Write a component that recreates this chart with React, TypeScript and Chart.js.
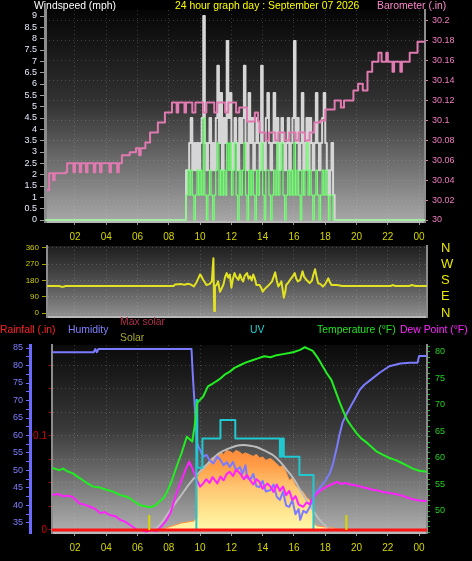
import React, { useEffect, useRef } from 'react';
import { Chart, registerables } from 'chart.js';

Chart.register(...registerables);

const FONT = '"Liberation Sans", Arial, sans-serif';

// ---------- shared time axis ----------
const hourTicks = [2, 4, 6, 8, 10, 12, 14, 16, 18, 20, 22, 24];
const hourLabels = ['02', '04', '06', '08', '10', '12', '14', '16', '18', '20', '22', '00'];

// ---------- top panel: wind + barometer ----------
const windTicks = [0, 0.5, 1, 1.5, 2, 2.5, 3, 3.5, 4, 4.5, 5, 5.5, 6, 6.5, 7, 7.5, 8, 8.5, 9];
const baroTicks = [30, 30.02, 30.04, 30.06, 30.08, 30.1, 30.12, 30.14, 30.16, 30.18, 30.2];

const windSampleStart = 9.0;
const windSampleStep = 0.1;
const windDayStart = 0.1;
const windDayEnd = 24.4;
const gustValues = [
  0, 2.2, 2.2, 3.4, 4.5, 2.2, 3.4, 2.2, 3.4, 2.2,
  3.4, 4.5, 9.0, 3.4, 2.2, 3.4, 4.5, 2.2, 3.4, 2.2,
  4.5, 6.8, 3.4, 5.6, 2.2, 4.5, 3.4, 7.9, 4.5, 5.6,
  2.2, 3.4, 4.5, 3.4, 2.2, 4.5, 3.4, 4.5, 6.8, 3.4,
  2.2, 5.6, 3.4, 4.5, 2.2, 3.4, 4.5, 3.4, 2.2, 6.8,
  3.4, 2.2, 4.5, 5.6, 3.4, 2.2, 3.4, 5.6, 3.4, 4.5,
  2.2, 3.4, 4.5, 3.4, 2.2, 3.4, 4.5, 2.2, 3.4, 4.5,
  7.9, 3.4, 4.5, 2.2, 3.4, 5.6, 2.2, 3.4, 4.5, 2.2,
  4.5, 3.4, 2.2, 3.4, 5.6, 3.4, 2.2, 3.4, 4.5, 5.6,
  3.4, 2.2, 1.1, 2.2, 3.4, 1.1, 0,
];
const speedValues = [
  0, 1.1, 2.2, 1.1, 2.2, 1.1, 0, 1.1, 2.2, 1.1,
  2.2, 1.1, 4.5, 1.1, 0, 1.1, 2.2, 1.1, 0, 1.1,
  2.2, 3.4, 1.1, 2.2, 1.1, 2.2, 1.1, 3.4, 2.2, 3.4,
  1.1, 2.2, 3.4, 1.1, 0, 2.2, 1.1, 2.2, 3.4, 1.1,
  0, 2.2, 1.1, 2.2, 1.1, 0, 2.2, 1.1, 2.2, 3.4,
  1.1, 0, 2.2, 2.2, 1.1, 0, 1.1, 2.2, 1.1, 3.4,
  1.1, 2.2, 3.4, 1.1, 0, 1.1, 2.2, 1.1, 2.2, 1.1,
  3.4, 1.1, 2.2, 1.1, 0, 2.2, 1.1, 2.2, 3.4, 1.1,
  2.2, 1.1, 0, 1.1, 2.2, 1.1, 0, 1.1, 2.2, 1.1,
  2.2, 1.1, 0, 1.1, 1.1, 0, 0,
];

const baroHours = [0.2, 0.35, 0.6, 0.7, 1.4, 1.5, 1.9, 2.0, 2.3, 2.4, 2.7, 2.8, 3.2, 3.3, 3.6, 3.7, 4.2, 4.3, 4.7, 4.8, 5.0, 5.5, 5.9, 6.1, 6.2, 6.5, 6.8, 7.3, 7.75, 8.2, 8.5, 8.6, 9.0, 9.1, 9.5, 9.7, 10.2, 10.4, 10.9, 11.1, 11.6, 11.8, 12.3, 12.5, 13.0, 13.5, 13.7, 13.8, 14.2, 14.4, 14.8, 15.0, 15.4, 15.7, 16.1, 16.3, 16.7, 17.0, 17.3, 17.7, 18.0, 18.6, 19.0, 19.2, 19.8, 20.1, 20.4, 20.7, 21.0, 21.4, 21.6, 21.9, 22.0, 22.3, 22.4, 22.8, 22.9, 23.4, 23.9, 24.4];
const baroValues = [30.030, 30.047, 30.040, 30.047, 30.048, 30.057, 30.048, 30.057, 30.048, 30.057, 30.048, 30.057, 30.048, 30.057, 30.048, 30.057, 30.048, 30.057, 30.048, 30.057, 30.065, 30.068, 30.072, 30.065, 30.072, 30.078, 30.088, 30.098, 30.108, 30.118, 30.108, 30.118, 30.108, 30.118, 30.108, 30.118, 30.108, 30.118, 30.108, 30.118, 30.108, 30.118, 30.108, 30.113, 30.099, 30.108, 30.099, 30.088, 30.080, 30.088, 30.080, 30.088, 30.080, 30.088, 30.080, 30.088, 30.080, 30.088, 30.098, 30.100, 30.111, 30.120, 30.113, 30.120, 30.130, 30.137, 30.130, 30.149, 30.159, 30.168, 30.159, 30.168, 30.159, 30.149, 30.159, 30.149, 30.159, 30.168, 30.179, 30.179];

// ---------- middle panel: wind direction ----------
const dirTicks = [0, 90, 180, 270, 360];
const compassLabels = ['N', 'E', 'S', 'W', 'N'];
const dirHours = [0.2, 1.0, 1.1, 1.3, 1.4, 8.3, 8.4, 8.8, 9.0, 9.2, 9.4, 9.6, 9.8, 10.0, 10.1, 10.2, 10.3, 10.4, 10.6, 10.75, 10.85, 10.9, 10.95, 11.05, 11.15, 11.27, 11.4, 11.5, 11.6, 11.7, 11.8, 11.9, 12.0, 12.1, 12.2, 12.3, 12.45, 12.55, 12.65, 12.75, 12.85, 13.0, 13.1, 13.2, 13.3, 13.4, 13.5, 13.6, 13.8, 13.9, 14.0, 14.15, 14.3, 14.45, 14.6, 14.7, 14.8, 14.9, 15.0, 15.1, 15.2, 15.35, 15.45, 15.5, 15.65, 15.75, 15.9, 16.05, 16.15, 16.25, 16.4, 16.55, 16.65, 16.8, 16.9, 17.0, 17.15, 17.25, 17.35, 17.45, 17.55, 17.7, 17.85, 18.0, 18.2, 18.3, 18.4, 18.75, 19.1, 22.2, 22.3, 22.45, 23.4, 23.5, 23.8, 24.5];
const dirValues = [150, 150, 146, 146, 150, 150, 158, 160, 156, 162, 158, 147, 175, 214, 200, 183, 170, 155, 160, 175, 303, 11, 150, 155, 175, 118, 140, 160, 200, 221, 195, 213, 140, 190, 221, 200, 183, 214, 190, 175, 205, 221, 190, 203, 180, 213, 190, 155, 155, 140, 118, 135, 147, 160, 175, 200, 225, 180, 147, 160, 175, 85, 120, 155, 170, 183, 200, 221, 190, 175, 183, 231, 200, 183, 175, 165, 180, 215, 242, 200, 165, 160, 147, 160, 192, 170, 155, 155, 150, 150, 155, 150, 150, 155, 150, 150];

// ---------- bottom panel ----------
const humTicks = [35, 37.5, 40, 42.5, 45, 47.5, 50, 52.5, 55, 57.5, 60, 62.5, 65, 67.5, 70, 72.5, 75, 77.5, 80, 82.5, 85];
const rainTicks = [0, 0.025, 0.05, 0.075, 0.1, 0.125, 0.15, 0.175];
const rainTickLabels = ['0', '', '', '', '0.1', '', '', ''];
const tempTicks = [46, 47, 48, 49, 50, 51, 52, 53, 54, 55, 56, 57, 58, 59, 60, 61, 62, 63, 64, 65, 66, 67, 68, 69, 70, 71, 72, 73, 74, 75, 76, 77, 78, 79, 80, 81];

const humHours = [0.55, 1.0, 2.0, 3.2, 3.3, 3.4, 3.5, 4.5, 6.0, 8.0, 9.45, 9.5, 9.55, 9.62, 9.7, 9.75, 9.8, 9.9, 10.0, 10.2, 10.4, 10.6, 10.85, 11.1, 11.3, 11.5, 11.7, 11.9, 12.1, 12.3, 12.55, 12.7, 12.9, 13.0, 13.2, 13.4, 13.6, 13.8, 14.0, 14.2, 14.5, 14.7, 14.9, 15.1, 15.3, 15.5, 15.7, 15.9, 16.1, 16.3, 16.4, 16.6, 16.8, 17.0, 17.2, 17.4, 17.7, 18.0, 18.3, 18.5, 18.75, 18.9, 19.1, 19.35, 19.6, 19.9, 20.2, 20.5, 20.9, 21.5, 22.1, 22.8, 23.4, 23.9, 24.0, 24.5];
const humValues = [83.8, 83.8, 83.8, 83.8, 84.7, 83.8, 84.7, 84.7, 84.7, 84.7, 84.7, 80, 76, 71, 65, 62.4, 58, 56.7, 55.9, 53.9, 54.5, 53, 52, 54, 53, 51.5, 52.4, 51, 52.5, 50, 51, 49, 51.5, 48, 47.3, 49, 45.5, 45.3, 47, 44, 44.4, 46, 42.5, 41.6, 44, 40, 39.6, 41.5, 37.5, 39, 35.9, 38.5, 37.9, 39.5, 41.6, 43.5, 45.3, 47, 49.3, 52, 56.7, 60, 63.6, 66, 68.1, 70.5, 73, 74.5, 75.9, 78, 79.8, 80.6, 80.8, 80.8, 82.7, 82.7];

const tempHours = [0.55, 0.8, 1.0, 1.24, 1.5, 1.87, 2.2, 2.5, 2.8, 3.16, 3.5, 4.0, 4.4, 4.9, 5.2, 5.5, 5.8, 6.16, 6.5, 6.8, 7.1, 7.4, 7.7, 7.95, 8.2, 8.5, 8.8, 9.15, 9.35, 9.5, 9.65, 9.8, 10.0, 10.2, 10.5, 10.84, 11.1, 11.3, 11.6, 11.9, 12.2, 12.55, 12.9, 13.3, 13.7, 14.1, 14.5, 14.9, 15.3, 15.7, 16.0, 16.4, 16.7, 17.0, 17.2, 17.5, 17.8, 18.1, 18.4, 18.7, 18.95, 19.2, 19.4, 19.7, 20.0, 20.3, 20.7, 21.0, 21.3, 21.7, 22.1, 22.5, 22.8, 23.2, 23.6, 24.0, 24.5];
const tempValues = [58.1, 57.9, 57.7, 58.0, 57.5, 57.1, 56.4, 55.8, 55.2, 54.6, 54.5, 54.0, 53.7, 53.0, 52.8, 52.4, 51.8, 51.1, 50.9, 50.7, 51.0, 51.75, 52.6, 54.0, 55.8, 58.4, 60.8, 64, 63.5, 63.1, 66, 70.3, 71.0, 71.6, 73.5, 74.1, 74.6, 75.0, 75.8, 76.3, 77.0, 77.5, 78.0, 78.4, 78.8, 79.2, 79.0, 79.4, 79.6, 79.8, 80.0, 80.4, 80.9, 80.5, 80.2, 79, 77.5, 76, 74.7, 72.3, 70.3, 68.5, 67.2, 65.9, 64.7, 63.7, 62.8, 62, 61.2, 60.6, 60, 59.6, 59.2, 58.6, 58.0, 57.6, 57.4];

const dewHours = [0.55, 0.9, 1.24, 1.6, 1.87, 2.3, 2.6, 2.96, 3.3, 3.6, 3.9, 4.25, 4.6, 4.9, 5.2, 5.5, 5.8, 5.97, 6.3, 6.6, 6.9, 7.25, 7.6, 7.85, 8.1, 8.3, 8.5, 8.7, 8.9, 9.1, 9.3, 9.5, 9.7, 9.8, 10.0, 10.2, 10.4, 10.6, 10.8, 11.1, 11.3, 11.5, 11.7, 11.9, 12.1, 12.3, 12.55, 12.8, 13.0, 13.2, 13.4, 13.6, 13.8, 14.0, 14.3, 14.5, 14.7, 14.9, 15.1, 15.3, 15.5, 15.7, 15.9, 16.1, 16.3, 16.6, 16.8, 17.0, 17.2, 17.5, 17.8, 18.1, 18.4, 18.75, 19.0, 19.3, 19.6, 20.0, 20.4, 20.7, 21.0, 21.3, 21.7, 22.1, 22.5, 22.8, 23.2, 23.6, 24.0, 24.5];
const dewValues = [53.0, 53.2, 52.8, 52.9, 52.6, 51.4, 51.2, 50.8, 50.4, 49.6, 49.8, 49.2, 49.0, 48.3, 48.0, 47.4, 46.8, 46.4, 46.3, 46.1, 46.4, 46.2, 47.4, 48.3, 49.6, 51.5, 53.4, 55, 56.5, 58, 59.3, 58.1, 56.5, 55.8, 54.6, 55.2, 56, 55.3, 56.4, 55.2, 56.5, 55.8, 57, 57.4, 56.6, 57.8, 57.1, 56, 56.8, 55.8, 55, 56, 55.5, 54.2, 55.2, 54.6, 53.6, 55, 53.8, 54.6, 53, 53.8, 52.1, 52.8, 51.2, 50.8, 51.6, 51.3, 52.4, 53.4, 54.1, 54.6, 55.0, 55.5, 55.1, 55.3, 55.0, 54.8, 54.5, 54.3, 54.0, 53.9, 53.6, 53.4, 53.2, 53.0, 52.6, 52.2, 52.0, 51.9];

const solarHours = [7.3, 7.6, 8.0, 8.4, 8.8, 9.2, 9.6, 9.75, 9.8, 10.0, 10.2, 10.4, 10.6, 10.8, 11.0, 11.3, 11.5, 11.7, 11.9, 12.1, 12.3, 12.55, 12.7, 12.9, 13.2, 13.4, 13.6, 13.8, 14.0, 14.2, 14.5, 14.8, 15.1, 15.3, 15.5, 15.7, 15.9, 16.1, 16.4, 16.6, 16.8, 17.0, 17.2, 17.3, 17.5, 18.0, 18.5, 19.0, 19.2];
const solarValues = [0, 10, 30, 50, 70, 80, 90, 120, 530, 580, 633, 650, 700, 730, 720, 784, 760, 800, 790, 770, 800, 780, 760, 775, 754, 740, 760, 724, 735, 700, 720, 680, 633, 650, 580, 503, 520, 450, 402, 380, 330, 302, 250, 60, 40, 30, 20, 5, 0];

const maxSolarHours = [6.7, 7.3, 8.1, 8.7, 9.35, 10.0, 10.6, 11.2, 11.9, 12.4, 12.75, 13.2, 13.6, 14.1, 14.65, 15.1, 15.55, 16.0, 16.4, 16.8, 17.2, 17.6, 18.1, 18.4];
const maxSolarValues = [0, 30, 201, 330, 472, 590, 683, 770, 824, 850, 854, 848, 834, 800, 754, 690, 603, 510, 402, 300, 201, 110, 30, 0];

const uvHours = [0.5, 9.72, 9.76, 9.82, 10.15, 11.3, 12.25, 15.1, 15.22, 15.35, 16.35, 17.25, 24.5];
const uvValues = [0, 0, 7.1, 3.4, 5, 6, 5, 4, 5, 4, 3, 0, 0];

const rainHours = [0.5, 24.5];
const rainValues = [0, 0];

const sunHours = [6.75, 19.35];
const sunMarkerHeight = 150;

// ---------- helpers ----------
const pts = (xs: number[], ys: number[]) => xs.map((x, i) => ({ x, y: ys[i] }));
const windPts = (vals: number[]) => [
  { x: windDayStart, y: 0 },
  ...vals.map((v, i) => ({ x: +(windSampleStart + i * windSampleStep).toFixed(2), y: v })),
  { x: windDayEnd, y: 0 },
];
const setTicks = (vals: number[]) => (scale: any) => {
  scale.ticks = vals.map((v) => ({ value: v }));
};
const fixW = (w: number) => (s: any) => {
  s.width = w;
  s.paddingTop = 0;
  s.paddingBottom = 0;
};
const fixH = (h: number) => (s: any) => {
  s.height = h;
  s.paddingLeft = 0;
  s.paddingRight = 0;
};

function bgPlugin(top: string, mid: string, bottom: string) {
  return {
    id: 'plotBg',
    beforeDraw(chart: any) {
      const { ctx, chartArea: a } = chart;
      if (!a) return;
      const g = ctx.createLinearGradient(0, a.top, 0, a.bottom);
      g.addColorStop(0, top);
      g.addColorStop(0.45, mid);
      g.addColorStop(1, bottom);
      ctx.save();
      ctx.fillStyle = g;
      ctx.fillRect(a.left, a.top, a.right - a.left, a.bottom - a.top);
      ctx.restore();
    },
  };
}

type TextItem = { text: string; x: number; y: number; color: string; size?: number };
function textPlugin(items: TextItem[]) {
  return {
    id: 'panelText',
    afterDraw(chart: any) {
      const ctx = chart.ctx;
      ctx.save();
      ctx.textBaseline = 'middle';
      ctx.textAlign = 'left';
      for (const it of items) {
        ctx.font = `${it.size || 10.4}px ${FONT}`;
        ctx.fillStyle = it.color;
        ctx.fillText(it.text, it.x, it.y);
      }
      ctx.restore();
    },
  };
}

const baseOptions = {
  animation: false,
  responsive: false,
  devicePixelRatio: 1,
  events: [],
  plugins: { legend: { display: false }, tooltip: { enabled: false }, title: { display: false } },
  elements: { point: { radius: 0 }, line: { borderJoinStyle: 'round' } },
};

const gridDash = [1, 3];
const gridColor = 'rgba(225,225,225,0.22)';

const xAxis = (min: number, max: number, height: number, showLabels: boolean) => ({
  type: 'linear',
  min,
  max,
  afterBuildTicks: setTicks(hourTicks),
  afterFit: fixH(height),
  ticks: {
    display: showLabels,
    callback: (_v: any, i: number) => hourLabels[i],
    color: '#d4d400',
    font: { family: FONT, size: 10 },
    padding: 6,
    autoSkip: false,
    maxRotation: 0,
  },
  grid: { color: gridColor, drawTicks: showLabels, tickLength: 3, tickColor: '#9a9a9a' },
  border: { display: true, color: '#b8b8b8', width: 2, dash: gridDash },
});

function topConfig() {
  return {
    type: 'line',
    data: {
      datasets: [
        { label: 'Barometer', data: pts(baroHours, baroValues), yAxisID: 'baro', borderColor: '#e07ab0', borderWidth: 2, stepped: true, pointRadius: 0, order: 1 },
        { label: 'Wind speed', data: windPts(speedValues), yAxisID: 'wind', borderColor: '#72ff72', borderWidth: 1.2, stepped: true, pointRadius: 0, order: 2 },
        { label: 'Gust', data: windPts(gustValues), yAxisID: 'wind', borderColor: '#d6d6d6', borderWidth: 2, stepped: true, pointRadius: 0, order: 3 },
      ],
    },
    options: {
      ...baseOptions,
      layout: { padding: { top: 10, left: 0, right: 0, bottom: 0 } },
      scales: {
        x: xAxis(0.083, 24.377, 24, true),
        wind: {
          position: 'left',
          min: -0.088,
          max: 9.265,
          afterBuildTicks: setTicks(windTicks),
          afterFit: fixW(45),
          ticks: { callback: (v: number) => String(v), color: '#e6ecff', font: { family: FONT, size: 9 }, padding: 3, autoSkip: false },
          grid: { drawOnChartArea: false, tickLength: 5, tickColor: '#a0a0a0' },
          border: { color: '#8c8c8c', width: 3 },
        },
        baro: {
          position: 'right',
          min: 29.998,
          max: 30.211,
          afterBuildTicks: setTicks(baroTicks),
          afterFit: fixW(47),
          ticks: { callback: (v: number) => String(v), color: '#f07cc0', font: { family: FONT, size: 9 }, padding: 4, autoSkip: false },
          grid: { color: gridColor, tickLength: 3, tickColor: '#e07ab0' },
          border: { color: '#8c8c8c', width: 2, dash: gridDash },
        },
      },
    },
    plugins: [
      bgPlugin('#050505', '#343434', '#a8a8a8'),
      textPlugin([
        { text: 'Windspeed (mph)', x: 34, y: 6, color: '#ffffff' },
        { text: '24 hour graph day : September 07 2026', x: 175, y: 6, color: '#ffff00' },
        { text: 'Barometer (.in)', x: 377, y: 6, color: '#ff88cc' },
      ]),
    ],
  };
}

function midConfig() {
  return {
    type: 'line',
    data: {
      datasets: [
        { label: 'Wind direction', data: pts(dirHours, dirValues), yAxisID: 'dir', borderColor: '#e2e222', borderWidth: 2, pointRadius: 0 },
      ],
    },
    options: {
      ...baseOptions,
      layout: { padding: { top: 6, left: 0, right: 0, bottom: 3 } },
      scales: {
        x: xAxis(0.211, 24.507, 0, false),
        dir: {
          position: 'left',
          min: -22,
          max: 371,
          afterBuildTicks: setTicks(dirTicks),
          afterFit: fixW(47),
          ticks: { callback: (v: number) => String(v), color: '#cccc00', font: { family: FONT, size: 8 }, padding: 3, autoSkip: false },
          grid: { color: gridColor, tickLength: 5, tickColor: '#a0a000' },
          border: { color: '#8c8c8c', width: 2, dash: gridDash },
        },
        compass: {
          position: 'right',
          min: -22,
          max: 371,
          afterBuildTicks: setTicks(dirTicks),
          afterFit: fixW(45),
          ticks: { callback: (_v: number, i: number) => compassLabels[i], color: '#e8e800', font: { family: FONT, size: 13 }, padding: 14, autoSkip: false },
          grid: { drawOnChartArea: false, drawTicks: false },
          border: { display: true, color: '#8c8c8c', width: 2 },
        },
      },
    },
    plugins: [bgPlugin('#1e1e1e', '#4a4a4a', '#909090')],
  };
}

function solarFill(context: any) {
  const chart = context.chart;
  const area = chart.chartArea;
  if (!area) return '#ffb050';
  const s = chart.scales.solar;
  const g = chart.ctx.createLinearGradient(0, s.getPixelForValue(800), 0, s.getPixelForValue(0));
  g.addColorStop(0, '#ff8a3a');
  g.addColorStop(0.2, '#ff9e48');
  g.addColorStop(0.45, '#ffc470');
  g.addColorStop(0.75, '#ffe48e');
  g.addColorStop(1, '#fff8ac');
  return g;
}

function bottomConfig() {
  const lineBase = { pointRadius: 0, borderWidth: 2 };
  return {
    type: 'line',
    data: {
      datasets: [
        { label: 'Solar', data: pts(solarHours, solarValues), yAxisID: 'solar', borderColor: '#ff9440', borderWidth: 1, backgroundColor: solarFill, fill: 'origin', pointRadius: 0, order: 10 },
        { label: 'Max solar', data: pts(maxSolarHours, maxSolarValues), yAxisID: 'solar', borderColor: '#bdbdbd', cubicInterpolationMode: 'monotone', ...lineBase, order: 9 },
        { label: 'Humidity', data: pts(humHours, humValues), yAxisID: 'hum', borderColor: '#7b7bff', ...lineBase, order: 6 },
        { label: 'Dew Point', data: pts(dewHours, dewValues), yAxisID: 'temp', borderColor: '#ff22ff', ...lineBase, order: 5 },
        { label: 'UV', data: pts(uvHours, uvValues), yAxisID: 'uv', borderColor: '#22c8d0', stepped: true, ...lineBase, order: 4 },
        { label: 'Temperature', data: pts(tempHours, tempValues), yAxisID: 'temp', borderColor: '#22ee22', ...lineBase, order: 3 },
        { label: 'Rainfall', data: pts(rainHours, rainValues), yAxisID: 'rain', borderColor: '#ff1414', pointRadius: 0, borderWidth: 3, order: 2 },
        { label: 'Sunrise', data: [{ x: sunHours[0], y: 0 }, { x: sunHours[0], y: sunMarkerHeight }], yAxisID: 'solar', borderColor: '#d8d800', ...lineBase, order: 1 },
        { label: 'Sunset', data: [{ x: sunHours[1], y: 0 }, { x: sunHours[1], y: sunMarkerHeight }], yAxisID: 'solar', borderColor: '#d8d800', ...lineBase, order: 1 },
      ],
    },
    options: {
      ...baseOptions,
      layout: { padding: { top: 45, left: 0, right: 0, bottom: 0 } },
      scales: {
        x: xAxis(0.531, 24.507, 28, true),
        hum: {
          position: 'left',
          weight: 2,
          min: 32.14,
          max: 85.86,
          afterBuildTicks: setTicks(humTicks),
          afterFit: fixW(30),
          ticks: { callback: (v: number) => (v % 5 === 0 ? String(v) : ''), color: '#7f7fff', font: { family: FONT, size: 9 }, padding: 3, autoSkip: false },
          grid: { drawOnChartArea: false, tickLength: 4, tickColor: '#6a6aff' },
          border: { color: '#6a6aff', width: 3 },
        },
        rain: {
          position: 'left',
          weight: 1,
          min: -0.0032,
          max: 0.1968,
          afterBuildTicks: setTicks(rainTicks),
          afterFit: fixW(22),
          ticks: { callback: (_v: number, i: number) => rainTickLabels[i], color: '#d40000', font: { family: FONT, size: 10 }, padding: 2, autoSkip: false },
          grid: { color: gridColor, tickLength: 3, tickColor: '#c00000' },
          border: { color: '#8c8c8c', width: 2, dash: gridDash },
        },
        temp: {
          position: 'right',
          min: 45.85,
          max: 81.32,
          afterBuildTicks: setTicks(tempTicks),
          afterFit: fixW(45),
          ticks: { callback: (v: number) => (v % 5 === 0 ? String(v) : ''), color: '#22d022', font: { family: FONT, size: 9 }, padding: 5, autoSkip: false },
          grid: { drawOnChartArea: false, tickLength: 3, tickColor: '#22b022' },
          border: { color: '#8c8c8c', width: 2 },
        },
        solar: { display: false, min: -30, max: 1860 },
        uv: { display: false, min: -0.164, max: 10.1 },
      },
    },
    plugins: [
      bgPlugin('#0a0a0a', '#3a3a3a', '#b0b0b0'),
      textPlugin([
        { text: 'Rainfall (.in)', x: 0, y: 30, color: '#ff2020' },
        { text: 'Humidity', x: 68, y: 30, color: '#8080ff' },
        { text: 'Max solar', x: 120, y: 22, color: '#b0304a' },
        { text: 'Solar', x: 120, y: 38, color: '#a8a830' },
        { text: 'UV', x: 250, y: 30, color: '#22d0d0' },
        { text: 'Temperature (°F)', x: 317, y: 30, color: '#22e022' },
        { text: 'Dew Point (°F)', x: 400, y: 30, color: '#ff22ff' },
      ]),
    ],
  };
}

function ChartCanvas({ top, height, build }: { top: number; height: number; build: () => any }) {
  const ref = useRef<HTMLCanvasElement>(null);
  useEffect(() => {
    const chart = new Chart(ref.current as HTMLCanvasElement, build());
    return () => chart.destroy();
  }, []);
  return (
    <canvas
      ref={ref}
      width={472}
      height={height}
      style={{ position: 'absolute', left: 0, top, width: 472, height, display: 'block' }}
    />
  );
}

export default function App() {
  return (
    <div style={{ position: 'absolute', left: 0, top: 0, width: 472, height: 561, background: '#000', overflow: 'hidden' }}>
      <ChartCanvas top={0} height={246} build={topConfig} />
      <ChartCanvas top={240} height={80} build={midConfig} />
      <ChartCanvas top={300} height={261} build={bottomConfig} />
    </div>
  );
}
